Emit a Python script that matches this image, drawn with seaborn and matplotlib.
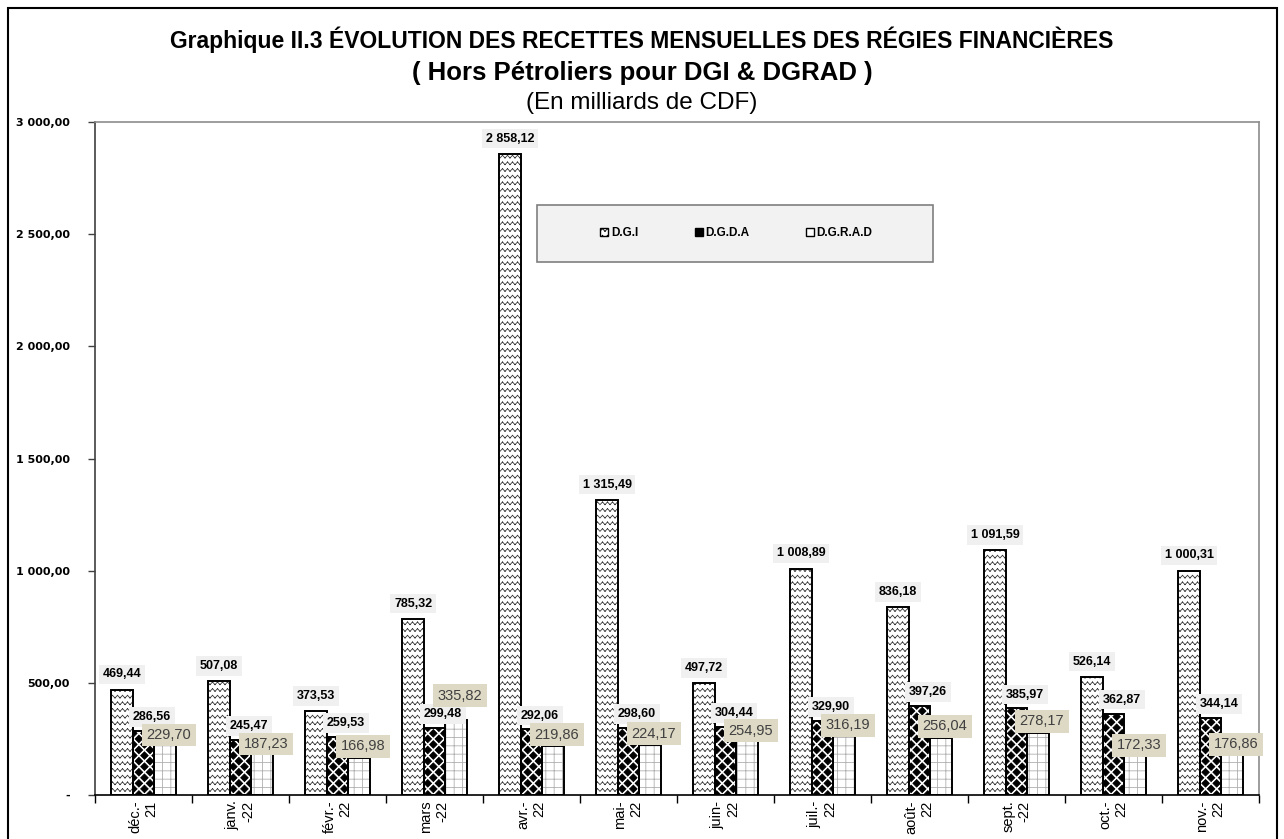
import warnings
import numpy as np
import pandas as pd
import matplotlib
matplotlib.use('Agg')
import matplotlib.pyplot as plt
import matplotlib.hatch as mhatch
from matplotlib.path import Path
from matplotlib.patches import Rectangle, Patch
import seaborn as sns

warnings.filterwarnings('ignore')

## Données (en milliards de CDF)

mois = ['déc.-\n21', 'janv.\n-22', 'févr.-\n22', 'mars\n-22', 'avr.-\n22', 'mai-\n22',
        'juin-\n22', 'juil.-\n22', 'août-\n22', 'sept.\n-22', 'oct.-\n22', 'nov.-\n22']
regies = ['D.G.I', 'D.G.D.A', 'D.G.R.A.D']
dgi = [469.44, 507.08, 373.53, 785.32, 2858.12, 1315.49, 497.72, 1008.89, 836.18, 1091.59, 526.14, 1000.31]
dgda = [286.56, 245.47, 259.53, 299.48, 292.06, 298.60, 304.44, 329.90, 397.26, 385.97, 362.87, 344.14]
dgrad = [229.70, 187.23, 166.98, 335.82, 219.86, 224.17, 254.95, 316.19, 256.04, 278.17, 172.33, 176.86]
y_ticks = [0, 500, 1000, 1500, 2000, 2500, 3000]

df = pd.DataFrame({
    'mois': mois * 3,
    'regie': [r for r in regies for _ in mois],
    'valeur': dgi + dgda + dgrad,
})


## Motifs de hachures personnalisés (zigzag et losanges)

class Zigzag(mhatch.HatchPatternBase):
    def __init__(self, hatch, density):
        self.rows = hatch.count('z') * 15
        self.zigs = 20
        self.num_vertices = self.rows * self.zigs * 4

    def set_vertices_and_codes(self, vertices, codes):
        xs = np.linspace(0, 1, 2 * self.zigs + 1)
        amp = 0.2 / self.rows
        signs = np.where(np.arange(xs.size) % 2 == 0, -1.0, 1.0)
        pts = []
        for r in range(self.rows):
            ys = (r + 0.5) / self.rows + amp * signs
            for i in range(xs.size - 1):
                pts += [(xs[i], ys[i]), (xs[i + 1], ys[i + 1])]
        vertices[:] = pts
        codes[0::2] = Path.MOVETO
        codes[1::2] = Path.LINETO


class Diamonds(mhatch.HatchPatternBase):
    def __init__(self, hatch, density):
        n = hatch.count('d') * 9
        self.n = n
        self.centers = []
        for r in range(2 * n + 1 if n else 0):
            cols = range(n + 1) if r % 2 == 0 else range(n)
            for i in cols:
                self.centers.append(((i + 0.5 * (r % 2)) / n, r / (2 * n)))
        self.num_vertices = len(self.centers) * 5

    def set_vertices_and_codes(self, vertices, codes):
        h = 0.34 / self.n
        shape = np.array([[0, -h], [h, 0], [0, h], [-h, 0], [0, -h]])
        vertices[:] = np.concatenate([shape + c for c in self.centers])
        codes[:] = np.tile([Path.MOVETO, Path.LINETO, Path.LINETO, Path.LINETO, Path.CLOSEPOLY],
                           len(self.centers))


mhatch._hatch_types.append(Zigzag)
mhatch._hatch_types.append(Diamonds)

plt.rcParams['font.family'] = ['Liberation Sans', 'DejaVu Sans']
plt.rcParams['hatch.linewidth'] = 0.6

def fr(v):
    return '{:,.2f}'.format(v).replace(',', ' ').replace('.', ',')


## Graphique

fig = plt.figure(figsize=(12.84, 8.39), dpi=100)
ax = fig.add_axes([95 / 1284, 1 - 795 / 839, (1259 - 95) / 1284, (795 - 122) / 839])

sns.barplot(data=df, x='mois', y='valeur', hue='regie', order=mois, hue_order=regies,
            palette=['white'] * 3, saturation=1, width=0.66, edgecolor='black',
            linewidth=1.4, errorbar=None, legend=False, ax=ax)

# Hachures : couleur de hachure via l'arête, contour noir redessiné par-dessus
hatches = ['z', 'd', '++']
hatch_colors = ['#3a3a3a', 'black', '#b0b0b0']
for cont, h, hc in zip(ax.containers, hatches, hatch_colors):
    for bar in cont:
        bar.set_hatch(h)
        bar.set_edgecolor(hc)
        bar.set_linewidth(0)
        ax.add_patch(Rectangle(bar.get_xy(), bar.get_width(), bar.get_height(), fill=False,
                               ec='black', lw=1.4, zorder=bar.get_zorder() + 0.1))

# Étiquettes de données (décalages en points)
px = 0.72  # 1 pixel en points
unit = 673 / 3000 * px  # points par milliard
off_dgi = 11
off_dgda = 10
off_dgrad = 8
for i in range(len(mois)):
    c = ax.containers[0][i]
    ax.annotate(fr(dgi[i]), (c.get_x() + c.get_width() / 2, dgi[i]), xytext=(0, off_dgi),
                textcoords='offset points', ha='center', va='center', fontweight='bold',
                fontsize=9, bbox=dict(boxstyle='square,pad=0.3', fc='#f0f0f0', ec='none'), zorder=6)
    c = ax.containers[1][i]
    ax.annotate(fr(dgda[i]), (c.get_x() + c.get_width() / 2, dgda[i]), xytext=(6, off_dgda),
                textcoords='offset points', ha='center', va='center', fontweight='bold',
                fontsize=9, bbox=dict(boxstyle='square,pad=0.3', fc='#f0f0f0', ec='none'), zorder=6)
    # éviter le chevauchement avec l'étiquette D.G.D.A
    y_dgda = dgda[i] * unit + off_dgda
    y_dgrad = dgrad[i] * unit + off_dgrad
    if abs(y_dgrad - y_dgda) < 12:
        y_dgrad = y_dgda + (13 if dgrad[i] > dgda[i] else -13)
    c = ax.containers[2][i]
    ax.annotate(fr(dgrad[i]), (c.get_x() + c.get_width() / 2, dgrad[i]),
                xytext=(3, y_dgrad - dgrad[i] * unit), textcoords='offset points',
                ha='center', va='center', color='#404040', fontsize=10.5,
                bbox=dict(boxstyle='square,pad=0.3', fc='#ddd9c4', ec='none'), zorder=7)

# Axes
ax.set_ylim(0, 3000)
ax.set_xlim(-0.5, len(mois) - 0.5)
ax.set_yticks(y_ticks)
ax.set_yticklabels(['-' if t == 0 else fr(t) for t in y_ticks], fontweight='bold', fontsize=8,
                   family='DejaVu Sans')
ax.tick_params(axis='y', length=5, width=1, pad=13, color='#404040')
ax.set_xticks(range(len(mois)))
ax.set_xticklabels(mois, rotation=90, fontsize=10.5, va='top', ha='center', multialignment='right')
ax.set_xticks(np.arange(-0.5, len(mois)), minor=True)
ax.tick_params(axis='x', which='major', length=0, pad=4)
ax.tick_params(axis='x', which='minor', length=6, width=1, color='black')
ax.set_xlabel('')
ax.set_ylabel('')
for s in ['top', 'right']:
    ax.spines[s].set_color('#8c8c8c')
    ax.spines[s].set_linewidth(1.2)
ax.spines['left'].set_color('#404040')
ax.spines['bottom'].set_color('black')
ax.spines['left'].set_linewidth(1.2)
ax.spines['bottom'].set_linewidth(1.2)

# Légende
ax.add_patch(Rectangle((0.380, 0.792), 0.340, 0.085, transform=ax.transAxes,
                       fc='#f2f2f2', ec='#7f7f7f', lw=1.2, zorder=7))
handles = [Patch(fc='white', ec='black', hatch='z'),
           Patch(fc='black', ec='black'),
           Patch(fc='white', ec='black')]
leg = ax.legend(handles, regies, loc='center', bbox_to_anchor=(0.551, 0.835), ncol=3,
                frameon=False, handlelength=0.7, handleheight=0.7, handletextpad=0.2,
                columnspacing=4.8, prop={'weight': 'bold', 'size': 8.5})
leg.set_zorder(8)

# Titres
fig.text(0.5, 1 - 40 / 839, 'Graphique II.3 ÉVOLUTION DES RECETTES MENSUELLES DES RÉGIES FINANCIÈRES',
         ha='center', va='center', fontsize=16.5, fontweight='bold')
fig.text(0.5, 1 - 73 / 839, '( Hors Pétroliers pour DGI & DGRAD )',
         ha='center', va='center', fontsize=18.5, fontweight='bold')
fig.text(0.5, 1 - 103 / 839, '(En milliards de CDF)',
         ha='center', va='center', fontsize=17.5)

# Cadre extérieur
fig.add_artist(Rectangle((8 / 1284, -0.05), (1277 - 8) / 1284, 1.05 - 8 / 839,
                         transform=fig.transFigure, fill=False, ec='black', lw=1.5))

fig.savefig('out.png', dpi=100)
